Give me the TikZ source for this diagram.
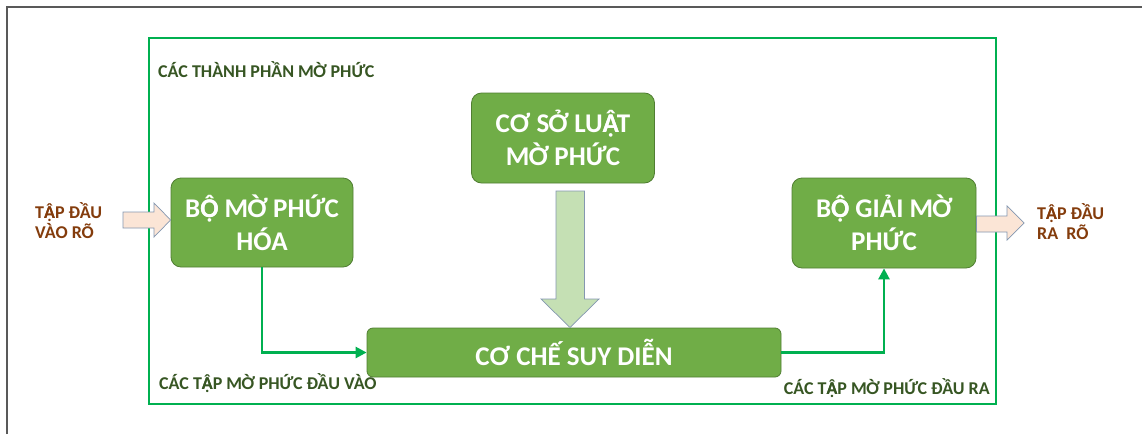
\documentclass[tikz,border=0pt]{standalone}
\usepackage{fontspec}
\setmainfont{Carlito}
\usetikzlibrary{arrows.meta,calc}
\definecolor{boxfill}{HTML}{70AD47}
\definecolor{boxedge}{HTML}{507E32}
\definecolor{frameg}{HTML}{00B050}
\definecolor{titleg}{HTML}{375623}
\definecolor{brownt}{HTML}{843C0C}
\definecolor{peach}{HTML}{FBE5D6}
\definecolor{lightg}{HTML}{C5E0B4}
\definecolor{arredge}{HTML}{8497B0}
% circumflex with dot below, stacked from two single-mark letters
\newcommand{\Ocd}{\makebox[0pt][l]{Ọ}Ô}
\newcommand{\Acd}{\makebox[0pt][l]{Ạ}Â}
\tikzset{
  stage/.style={draw=boxedge, fill=boxfill, line width=0.8pt, rounded corners=10pt,
    text=white, font=\bfseries\fontsize{27}{33}\selectfont, align=center, inner sep=0pt},
  caption/.style={text=titleg, font=\bfseries\fontsize{18}{20}\selectfont, inner sep=0pt},
  io/.style={text=brownt, font=\bfseries\fontsize{18}{20}\selectfont, align=left, inner sep=0pt},
  flow/.style={draw=frameg, line width=2.6pt, -{Triangle[length=11pt,width=11pt]}},
  blockarrow/.style={draw=arredge, line width=0.7pt, line join=miter}
}
\begin{document}
\begin{tikzpicture}[x=1pt,y=-1pt]
\useasboundingbox (0,0) rectangle (1142,434);
\fill[white] (0,0) rectangle (1142,434);
% outer page frame
\draw[color=black!65, line width=1.4pt] (7,434) -- (7,7) -- (1142,7);
% enclosing frame of the fuzzy components
\draw[frameg, line width=1.8pt] (149,38) rectangle (996,404);
\node[caption, anchor=west] (title) at (158,70) {CÁC THÀNH PHẦN MỜ PHỨC};

% processing stages
\node[stage, minimum width=182pt, minimum height=89pt] (fuzz) at (262,222.5) {B\Ocd{} MỜ PHỨC\\HÓA};
\node[stage, minimum width=183pt, minimum height=90pt] (rules) at (563,138) {CƠ SỞ LU\Acd{}T\\MỜ PHỨC};
\node[stage, minimum width=184pt, minimum height=90pt] (defuzz) at (884,223) {B\Ocd{} GIẢI MỜ\\PHỨC};
\node[stage, rounded corners=6pt, minimum width=414pt, minimum height=49pt] (engine) at (574,352.5) {CƠ CHẾ SUY DIỄN};

% inputs and outputs
\node[io, anchor=west] (inlab) at (35,221) {T\Acd{}P ĐẦU\\VÀO RÕ};
\node[io, anchor=west] (outlab) at (1037,222) {T\Acd{}P ĐẦU\\RA\ \ RÕ};
\node[caption, anchor=west] (inset) at (159,383) {CÁC T\Acd{}P MỜ PHỨC ĐẦU VÀO};
\node[caption, anchor=east] (outset) at (990,388) {CÁC T\Acd{}P MỜ PHỨC ĐẦU RA};

% crisp input arrow
\draw[blockarrow, fill=peach] (123,212) -- (154,212) -- (154,203) -- (fuzz.west |- 0,220)
  -- (154,237) -- (154,228) -- (123,228) -- cycle;
% crisp output arrow
\draw[blockarrow, fill=peach] (defuzz.east |- 0,216) -- (1007,216) -- (1007,206) -- (1024,223)
  -- (1007,240) -- (1007,232) -- (defuzz.east |- 0,232) -- cycle;
% rule base feeding the inference engine
\draw[blockarrow, fill=lightg] (556,191) -- (584.5,191) -- (584.5,299) -- (599,299)
  -- (570,327.5) -- (541,299) -- (556,299) -- cycle;

% fuzzy sets flowing through the engine
\draw[flow] (fuzz.south) |- (engine.west);
\draw[flow] (engine.east) -| (defuzz.south);
\end{tikzpicture}
\end{document}
